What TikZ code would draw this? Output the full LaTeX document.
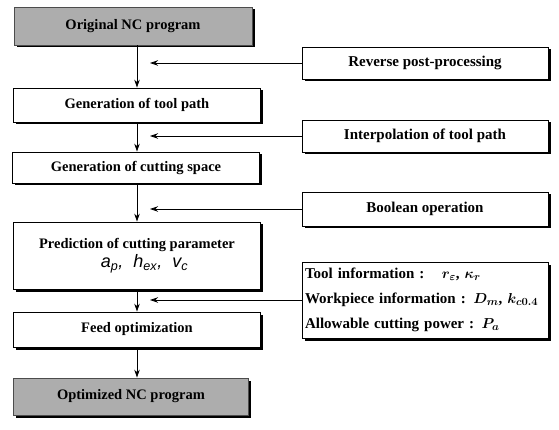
\documentclass[tikz,border=0pt]{standalone}
\usepackage{fontspec}
\usepackage{amsmath,amssymb}
\setmainfont{Liberation Serif}
\newfontfamily\paramfont{Liberation Sans}
\usetikzlibrary{arrows.meta,shadows}
\tikzset{
  shadowed/.style={drop shadow={shadow xshift=2.5pt,shadow yshift=-2.5pt,fill=black,opacity=1}},
  procbox/.style={draw=black,line width=0.8pt,fill=white,shadowed,minimum width=247pt,inner sep=2pt,
    font=\bfseries\fontsize{14.5}{17}\selectfont,align=center},
  termbox/.style={draw=black!70,line width=0.8pt,fill=black!32,shadowed,minimum width=238pt,inner sep=2pt,
    font=\bfseries\fontsize{14.5}{17}\selectfont},
  sidebox/.style={draw=black,line width=0.8pt,fill=white,shadowed,minimum width=246pt,inner sep=2pt,
    font=\bfseries\fontsize{15}{17}\selectfont},
  flow/.style={line width=0.9pt,-{Stealth[length=8pt,width=5.5pt]}},
}
\begin{document}
\begin{tikzpicture}[x=1pt,y=-1pt]
\useasboundingbox (0,0) rectangle (559,430);
% main column
\node[termbox,minimum height=38pt] (b1) at (133,26) {Original NC program};
\node[procbox,minimum height=34pt] (b2) at (137,105) {Generation of tool path};
\node[procbox,minimum height=31pt] (b3) at (136,167.5) {Generation of cutting space};
\node[procbox,minimum height=67pt] (b4) at (137,255.5) {Prediction of cutting parameter\\[2pt]
  {\mdseries\paramfont\itshape\fontsize{18}{19}\selectfont\ \ \ a\textsubscript{p},\ \ h\textsubscript{ex},\ \ v\textsubscript{c}}};
\node[procbox,minimum height=35pt] (b5) at (137,329.5) {Feed optimization};
\node[termbox,minimum height=37pt,minimum width=235pt] (b6) at (131,396.5) {Optimized NC program};
% side column
\node[sidebox,minimum height=32pt] (r1) at (425,63) {Reverse post-processing};
\node[sidebox,minimum height=32pt] (r2) at (425,136) {Interpolation of tool path};
\node[sidebox,minimum height=34pt] (r3) at (425,209) {Boolean operation};
\node[sidebox,minimum height=76pt,text width=240pt,align=left,font=\bfseries\fontsize{15}{25}\selectfont] (r4) at (425,300)
  {\mbox{Tool information : \ \ $\boldsymbol{r_\varepsilon}$, $\boldsymbol{\kappa_r}$}\\
   \mbox{Workpiece information : $\boldsymbol{D_m}$, $\boldsymbol{k_{c0.4}}$}\\
   \mbox{Allowable cutting power : $\boldsymbol{P_a}$}};
% join points
\coordinate (j1) at (150,63);
\coordinate (j2) at (150,136);
\coordinate (j3) at (150,209);
\coordinate (j4) at (150,300);
% vertical flow
\draw[flow] (b1.south -| b2.north) -- (b2.north);
\draw[flow] (b2.south) -- (b3.north -| b2.south);
\draw[flow] (b3.south -| b2.south) -- (b4.north);
\draw[flow] (b4.south) -- (b5.north);
\draw[flow] (b5.south) -- (b6.north -| b5.south);
% side inputs
\draw[flow] (r1.west) -- (j1);
\draw[flow] (r2.west) -- (j2);
\draw[flow] (r3.west) -- (j3);
\draw[flow] (r4.west) -- (j4);
\end{tikzpicture}
\end{document}
